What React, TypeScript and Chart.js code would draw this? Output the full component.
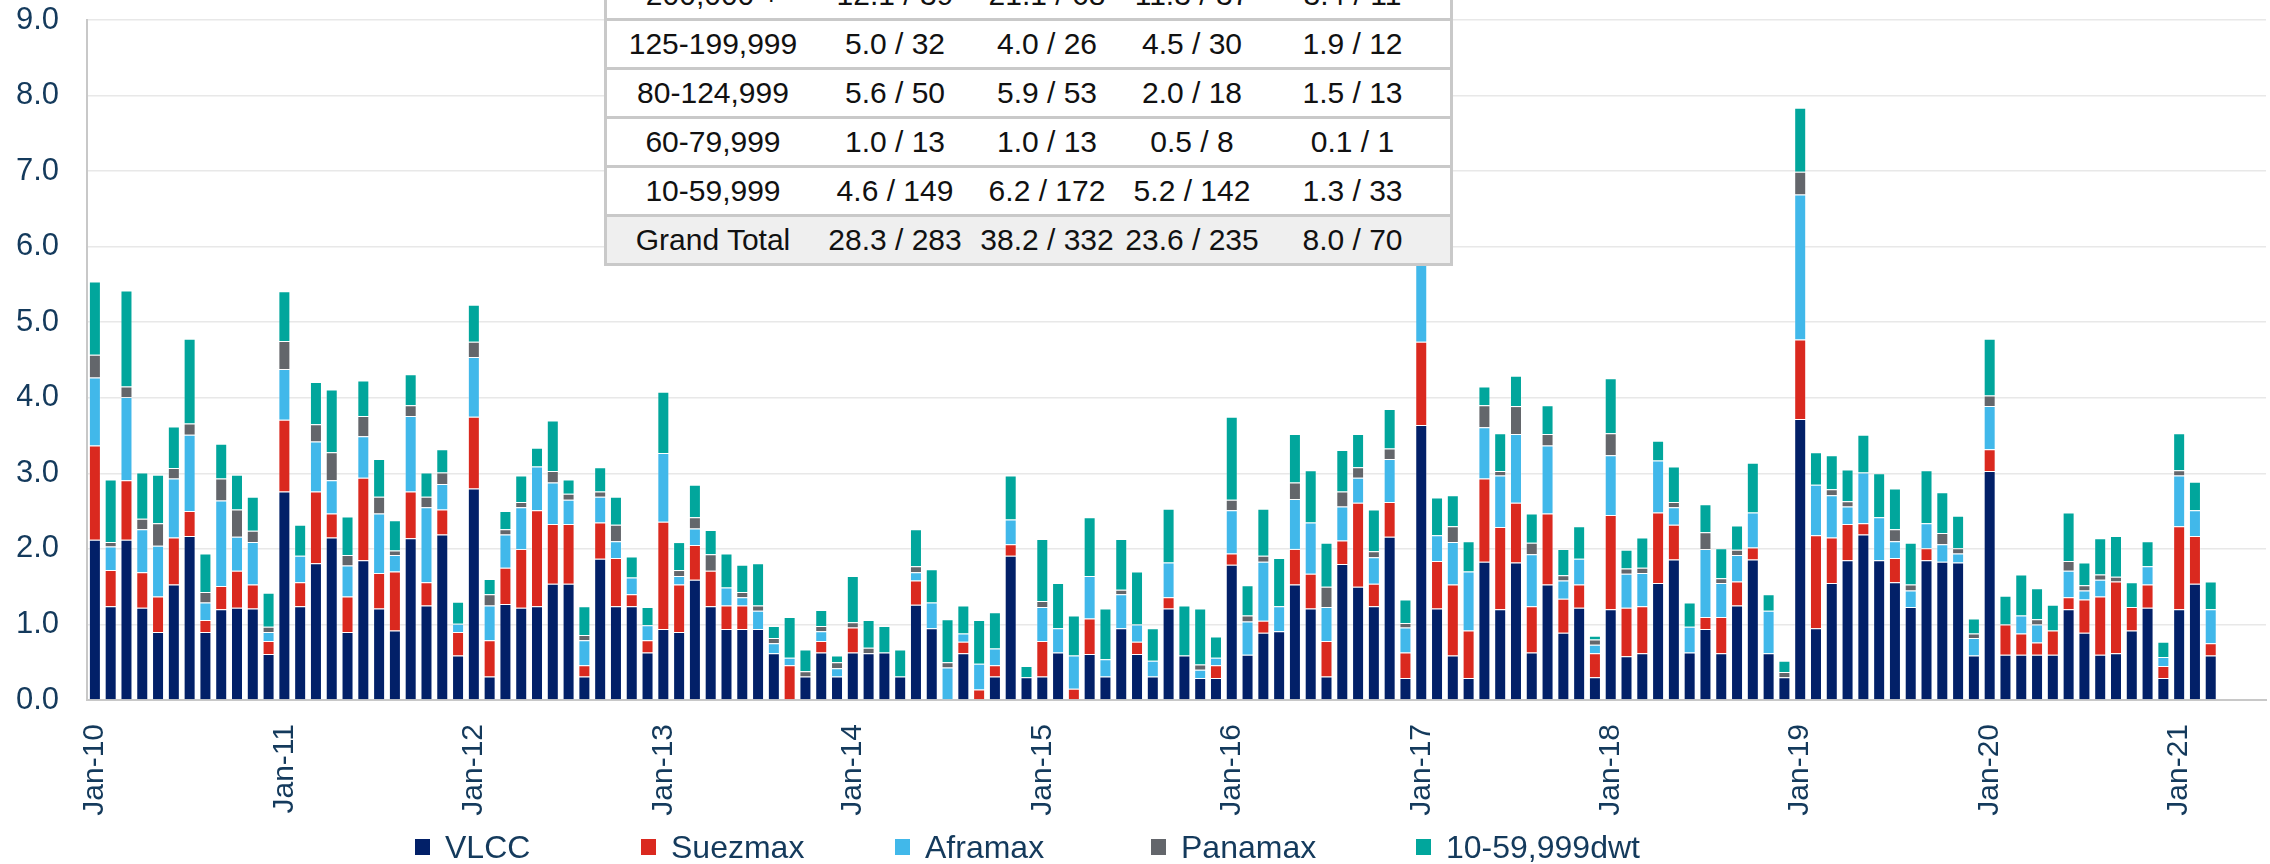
import React, { useEffect, useRef } from "react";
import { Chart, registerables } from "chart.js";

Chart.register(...registerables);

// ---------- data ----------
const MONTHS = ["Jan", "Feb", "Mar", "Apr", "May", "Jun", "Jul", "Aug", "Sep", "Oct", "Nov", "Dec"];
const YEARS = ["10", "11", "12", "13", "14", "15", "16", "17", "18", "19", "20", "21"];
const CATEGORIES: string[] = YEARS.flatMap((y) => MONTHS.map((m) => `${m}-${y}`)).slice(0, 138);

const SERIES_NAMES = ["VLCC", "Suezmax", "Aframax", "Panamax", "10-59,999dwt"];
const SERIES_COLORS = ["#022068", "#DA291F", "#41B8EA", "#63666B", "#01A69C"];

const VLCC = [
  2.12, 1.24, 2.12, 1.22, 0.9, 1.53, 2.17, 0.9, 1.2, 1.22, 1.21, 0.61,
  2.76, 1.24, 1.81, 2.15, 0.9, 1.85, 1.21, 0.92, 2.14, 1.25, 2.19, 0.59,
  2.8, 0.31, 1.27, 1.22, 1.24, 1.54, 1.54, 0.31, 1.87, 1.24, 1.24, 0.63,
  0.94, 0.9, 1.59, 1.24, 0.94, 0.94, 0.94, 0.62, 0, 0.31, 0.63, 0.31,
  0.63, 0.62, 0.63, 0.31, 1.26, 0.95, 0, 0.62, 0, 0.31, 1.91, 0.3,
  0.31, 0.63, 0, 0.61, 0.31, 0.95, 0.61, 0.31, 1.21, 0.59, 0.29, 0.29,
  1.79, 0.6, 0.89, 0.91, 1.53, 1.21, 0.31, 1.8, 1.5, 1.24, 2.16, 0.29,
  3.64, 1.21, 0.59, 0.29, 1.83, 1.2, 1.82, 0.63, 1.53, 0.89, 1.22, 0.3,
  1.2, 0.58, 0.62, 1.55, 1.86, 0.63, 0.94, 0.62, 1.25, 1.86, 0.62, 0.3,
  3.72, 0.95, 1.55, 1.85, 2.19, 1.85, 1.56, 1.23, 1.85, 1.83, 1.82, 0.59,
  3.03, 0.6, 0.6, 0.6, 0.6, 1.2, 0.89, 0.6, 0.62, 0.92, 1.22, 0.29,
  1.2, 1.54, 0.59,
];
const SUEZMAX = [
  1.25, 0.48, 0.79, 0.47, 0.47, 0.62, 0.33, 0.16, 0.31, 0.49, 0.32, 0.17,
  0.95, 0.32, 0.95, 0.32, 0.47, 1.09, 0.47, 0.78, 0.62, 0.31, 0.33, 0.31,
  0.95, 0.48, 0.48, 0.78, 1.27, 0.79, 0.79, 0.15, 0.48, 0.64, 0.16, 0.16,
  1.42, 0.63, 0.46, 0.47, 0.31, 0.31, 0, 0, 0.46, 0, 0.15, 0,
  0.33, 0, 0, 0, 0.32, 0, 0, 0.15, 0.14, 0.15, 0.15, 0,
  0.47, 0, 0.15, 0.47, 0, 0, 0.16, 0, 0.15, 0, 0, 0.17,
  0.15, 0, 0.16, 0, 0.47, 0.46, 0.47, 0.31, 1.11, 0.3, 0.46, 0.34,
  1.1, 0.63, 0.94, 0.63, 1.1, 1.09, 0.79, 0.61, 0.94, 0.45, 0.31, 0.32,
  1.25, 0.64, 0.62, 0.93, 0.46, 0, 0.16, 0.48, 0.32, 0.16, 0, 0,
  1.05, 1.23, 0.6, 0.48, 0.15, 0, 0.32, 0, 0.16, 0, 0, 0,
  0.29, 0.4, 0.28, 0.16, 0.32, 0.16, 0.44, 0.77, 0.95, 0.31, 0.31, 0.16,
  1.1, 0.63, 0.16,
];
const AFRAMAX = [
  0.9, 0.31, 1.1, 0.57, 0.67, 0.78, 1.01, 0.23, 1.13, 0.45, 0.56, 0.12,
  0.67, 0.35, 0.66, 0.44, 0.41, 0.55, 0.79, 0.22, 1.0, 0.99, 0.34, 0.11,
  0.79, 0.46, 0.44, 0.55, 0.58, 0.55, 0.32, 0.33, 0.34, 0.22, 0.22, 0.2,
  0.91, 0.11, 0.22, 0, 0.24, 0.11, 0.24, 0.13, 0.1, 0, 0.13, 0.11,
  0, 0, 0, 0, 0.11, 0.34, 0.43, 0.11, 0.34, 0.22, 0.33, 0,
  0.45, 0.32, 0.44, 0.56, 0.23, 0.45, 0.23, 0.21, 0.46, 0, 0.11, 0.1,
  0.57, 0.44, 0.78, 0.33, 0.66, 0.68, 0.45, 0.45, 0.33, 0.35, 0.57, 0.33,
  1.2, 0.34, 0.56, 0.78, 0.68, 0.68, 0.91, 0.69, 0.9, 0.24, 0.34, 0.11,
  0.79, 0.45, 0.44, 0.69, 0.23, 0.34, 0.9, 0.45, 0.35, 0.46, 0.56, 0,
  1.92, 0.67, 0.56, 0.23, 0.67, 0.57, 0.22, 0.22, 0.33, 0.23, 0.12, 0.23,
  0.57, 0, 0.24, 0.24, 0, 0.35, 0.12, 0.22, 0, 0, 0.24, 0.12,
  0.67, 0.34, 0.45,
];
const PANAMAX = [
  0.3, 0.06, 0.14, 0.14, 0.3, 0.14, 0.15, 0.14, 0.29, 0.36, 0.15, 0.07,
  0.37, 0, 0.23, 0.37, 0.14, 0.27, 0.22, 0.06, 0.14, 0.14, 0.15, 0,
  0.2, 0.15, 0.07, 0.07, 0, 0.15, 0.08, 0.07, 0.07, 0.22, 0, 0,
  0, 0.08, 0.15, 0.22, 0, 0.07, 0.07, 0.07, 0, 0.07, 0.07, 0.08,
  0.07, 0.07, 0, 0, 0.08, 0, 0.07, 0, 0, 0, 0, 0,
  0.08, 0, 0, 0, 0, 0.06, 0, 0, 0, 0, 0.07, 0,
  0.14, 0.08, 0.08, 0, 0.22, 0, 0.27, 0.2, 0.14, 0.08, 0.14, 0.06,
  0.2, 0, 0.21, 0, 0.29, 0.06, 0.37, 0.15, 0.15, 0.07, 0, 0.07,
  0.29, 0.07, 0.07, 0, 0.07, 0, 0.22, 0.06, 0.07, 0, 0, 0.07,
  0.3, 0, 0.08, 0.07, 0, 0, 0.16, 0.08, 0, 0.15, 0.07, 0.06,
  0.14, 0, 0, 0.07, 0, 0.13, 0.07, 0.07, 0.06, 0, 0, 0,
  0.07, 0, 0,
];
const SMALL_TANKERS = [
  0.97, 0.83, 1.27, 0.61, 0.64, 0.55, 1.12, 0.51, 0.46, 0.46, 0.45, 0.45,
  0.66, 0.41, 0.56, 0.83, 0.51, 0.47, 0.5, 0.4, 0.41, 0.32, 0.31, 0.29,
  0.49, 0.2, 0.24, 0.35, 0.25, 0.67, 0.19, 0.38, 0.32, 0.37, 0.28, 0.24,
  0.81, 0.37, 0.43, 0.32, 0.45, 0.36, 0.56, 0.16, 0.54, 0.29, 0.21, 0.09,
  0.61, 0.37, 0.35, 0.36, 0.49, 0.44, 0.57, 0.37, 0.58, 0.48, 0.58, 0.15,
  0.82, 0.6, 0.53, 0.78, 0.67, 0.67, 0.7, 0.43, 0.71, 0.66, 0.74, 0.28,
  1.1, 0.4, 0.62, 0.64, 0.64, 0.69, 0.58, 0.55, 0.44, 0.55, 0.52, 0.31,
  0.9, 0.5, 0.41, 0.4, 0.25, 0.5, 0.4, 0.39, 0.38, 0.35, 0.43, 0.05,
  0.73, 0.25, 0.4, 0.26, 0.47, 0.32, 0.37, 0.4, 0.32, 0.66, 0.22, 0.15,
  0.85, 0.43, 0.45, 0.42, 0.5, 0.58, 0.54, 0.55, 0.7, 0.54, 0.43, 0.2,
  0.75, 0.38, 0.54, 0.41, 0.34, 0.64, 0.3, 0.48, 0.54, 0.33, 0.33, 0.2,
  0.49, 0.38, 0.37,
];
const SERIES_VALUES = [VLCC, SUEZMAX, AFRAMAX, PANAMAX, SMALL_TANKERS];

const Y_MIN = 0;
const Y_MAX = 9;
const Y_STEP = 1;

const TABLE_ROWS = [
  ["200,000 +", "12.1 / 39", "21.1 / 68", "11.3 / 37", "3.4 / 11"],
  ["125-199,999", "5.0 / 32", "4.0 / 26", "4.5 / 30", "1.9 / 12"],
  ["80-124,999", "5.6 / 50", "5.9 / 53", "2.0 / 18", "1.5 / 13"],
  ["60-79,999", "1.0 / 13", "1.0 / 13", "0.5 / 8", "0.1 / 1"],
  ["10-59,999", "4.6 / 149", "6.2 / 172", "5.2 / 142", "1.3 / 33"],
  ["Grand Total", "28.3 / 283", "38.2 / 332", "23.6 / 235", "8.0 / 70"],
];

// ---------- styling ----------
const FONT = "'Liberation Sans', Arial, Helvetica, sans-serif";
const TEXT_COLOR = "#143A5C";
const TABLE_COL_WIDTHS = [212, 152, 152, 138, 183];
const LEGEND_X = [415, 641, 895, 1151, 1416];

export default function App() {
  const canvasRef = useRef<HTMLCanvasElement | null>(null);

  useEffect(() => {
    if (!canvasRef.current) return;
    const chart = new Chart(canvasRef.current, {
      type: "bar",
      data: {
        labels: CATEGORIES,
        datasets: SERIES_NAMES.map((name, i) => ({
          label: name,
          data: SERIES_VALUES[i],
          backgroundColor: SERIES_COLORS[i],
          borderColor: "rgba(255,255,255,0.25)",
          borderWidth: 1,
          barPercentage: 0.76,
          categoryPercentage: 1.0,
        })),
      },
      options: {
        responsive: false,
        animation: false,
        layout: { padding: { left: 17, top: 20, right: 4, bottom: 48 } },
        plugins: {
          legend: { display: false },
          tooltip: { enabled: false },
        },
        scales: {
          x: {
            stacked: true,
            grid: { display: false, drawTicks: false },
            border: { display: true, color: "#C8C8C8", width: 2 },
            ticks: {
              autoSkip: false,
              minRotation: 90,
              maxRotation: 90,
              padding: 24,
              color: TEXT_COLOR,
              font: { family: FONT, size: 30 },
              callback: (_v: any, idx: number) => (idx % 12 === 0 ? CATEGORIES[idx] : ""),
            },
            afterFit: (scale: any) => {
              scale.height = 116;
              scale.paddingLeft = 0;
              scale.paddingRight = 0;
            },
          },
          y: {
            stacked: true,
            min: Y_MIN,
            max: Y_MAX,
            grid: { color: "#E8E8E8", lineWidth: 1.5, drawTicks: false },
            border: { display: true, color: "#C8C8C8", width: 2 },
            ticks: {
              stepSize: Y_STEP,
              padding: 28,
              color: TEXT_COLOR,
              font: { family: FONT, size: 31 },
              callback: (v: any) => Number(v).toFixed(1),
            },
            afterFit: (scale: any) => {
              scale.width = 70;
              scale.paddingTop = 0;
              scale.paddingBottom = 0;
            },
          },
        },
      },
    });
    return () => chart.destroy();
  }, []);

  const colLefts = TABLE_COL_WIDTHS.map((_, i) => TABLE_COL_WIDTHS.slice(0, i).reduce((a, b) => a + b, 0));

  return (
    <div style={{ position: "absolute", left: 0, top: 0, width: 2270, height: 864, overflow: "hidden", background: "#fff" }}>
      <canvas ref={canvasRef} width={2270} height={864} style={{ position: "absolute", left: 0, top: 0 }} />
      <div
        style={{
          position: "absolute",
          left: 604,
          top: -31,
          width: 843,
          border: "3px solid #C9C9C9",
          background: "#fff",
          fontFamily: FONT,
          fontSize: 30,
          color: "#111",
        }}
      >
        {TABLE_ROWS.map((row, r) => (
          <div
            key={r}
            style={{
              position: "relative",
              height: 46,
              borderTop: r === 0 ? "none" : "3px solid #C9C9C9",
              background: r === TABLE_ROWS.length - 1 ? "#EFEFEF" : "#fff",
            }}
          >
            {row.map((cell, c) => (
              <div
                key={c}
                style={{
                  position: "absolute",
                  left: colLefts[c],
                  width: TABLE_COL_WIDTHS[c],
                  top: 0,
                  height: 46,
                  lineHeight: "46px",
                  textAlign: "center",
                  whiteSpace: "nowrap",
                }}
              >
                {cell}
              </div>
            ))}
          </div>
        ))}
      </div>
      {SERIES_NAMES.map((name, i) => (
        <div
          key={name}
          style={{
            position: "absolute",
            left: LEGEND_X[i],
            top: 828,
            height: 38,
            display: "flex",
            alignItems: "center",
            fontFamily: FONT,
            fontSize: 32,
            color: TEXT_COLOR,
            whiteSpace: "nowrap",
          }}
        >
          <span style={{ display: "inline-block", width: 15, height: 16, background: SERIES_COLORS[i], marginRight: 15 }} />
          <span>{name}</span>
        </div>
      ))}
    </div>
  );
}
